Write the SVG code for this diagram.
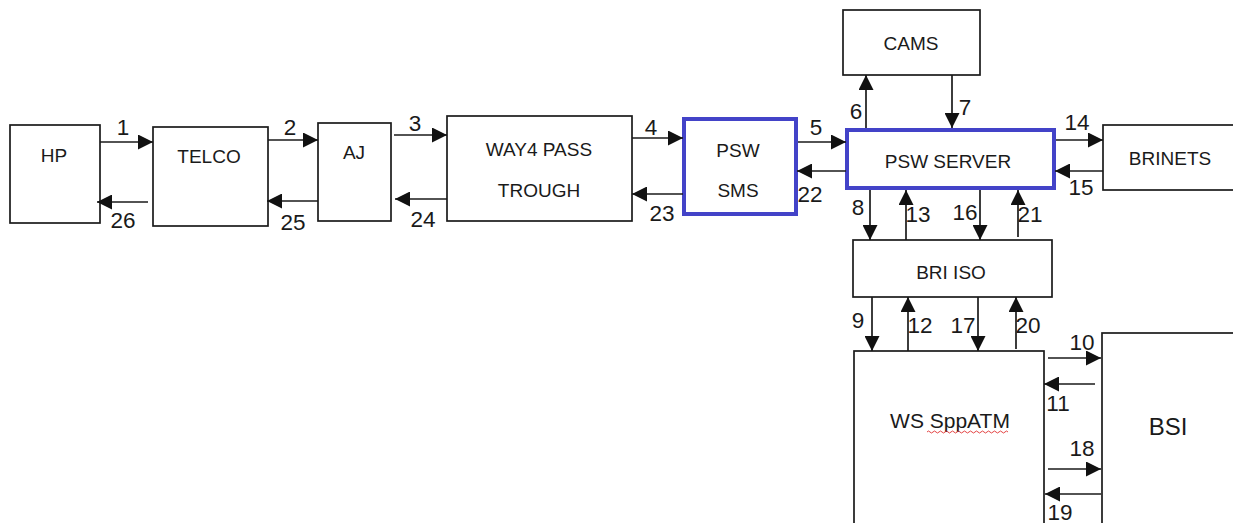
<svg xmlns="http://www.w3.org/2000/svg" width="1233" height="523" viewBox="0 0 1233 523">
<style>
.box{fill:#fff;stroke:#1a1a1a;stroke-width:1.7}
.blue{fill:#fff;stroke:#4343C8;stroke-width:4}
.t{font-family:"Liberation Sans",Arial,sans-serif;font-size:19px;fill:#1a1a1a;text-anchor:middle}
.n{font-family:"Liberation Sans",Arial,sans-serif;font-size:22.5px;fill:#1a1a1a;text-anchor:middle}
.c{stroke:#1a1a1a;stroke-width:1.7;fill:none;marker-end:url(#ah)}
</style>
<defs>
<marker id="ah" markerUnits="userSpaceOnUse" markerWidth="15" markerHeight="15" refX="15" refY="7.5" orient="auto">
<path d="M0,0 L15,7.5 L0,15 z" fill="#111"/>
</marker>
</defs>
<rect width="1233" height="523" fill="#fff"/>
<g id="hp"><rect class="box" x="10" y="125" width="90" height="98"/><text class="t" x="54" y="162">HP</text></g>
<g id="telco"><rect class="box" x="153" y="127" width="115" height="99"/><text class="t" x="209" y="163">TELCO</text></g>
<g id="aj"><rect class="box" x="318" y="123" width="73" height="98"/><text class="t" x="354" y="159">AJ</text></g>
<g id="way4"><rect class="box" x="447" y="116" width="185" height="105"/><text class="t" x="539" y="156">WAY4 PASS</text><text class="t" x="539" y="197">TROUGH</text></g>
<g id="pswsms"><rect class="blue" x="684" y="119" width="112" height="95"/><text class="t" x="738" y="157">PSW</text><text class="t" x="738" y="197">SMS</text></g>
<g id="cams"><rect class="box" x="843" y="10" width="137" height="65"/><text class="t" x="911" y="50">CAMS</text></g>
<g id="pswserver"><rect class="blue" x="847" y="130" width="207" height="58"/><text class="t" x="948" y="168">PSW SERVER</text></g>
<g id="brinets"><rect class="box" x="1103" y="125" width="140" height="65"/><text class="t" x="1170" y="165">BRINETS</text></g>
<g id="briiso"><rect class="box" x="853" y="240" width="199" height="57"/><text class="t" x="951" y="279">BRI ISO</text></g>
<g id="wssppatm"><rect class="box" x="854" y="351" width="190" height="180"/><text class="t" x="950" y="428" style="font-size:21px">WS SppATM</text>
<path d="M927,432 q1.5,-2 3,0 t3,0 t3,0 t3,0 t3,0 t3,0 t3,0 t3,0 t3,0 t3,0 t3,0 t3,0 t3,0 t3,0 t3,0 t3,0 t3,0 t3,0 t3,0 t3,0 t3,0 t3,0 t3,0 t3,0 t3,0 t3,0 t3,0" fill="none" stroke="#e03030" stroke-width="0.9"/></g>
<g id="bsi"><rect class="box" x="1102" y="333" width="140" height="200"/><text class="t" x="1168" y="435" style="font-size:24px">BSI</text></g>
<g id="connectors">
<line class="c" x1="100" y1="142" x2="153" y2="142"/>
<line class="c" x1="148" y1="202" x2="97" y2="202"/>
<line class="c" x1="268" y1="140" x2="318" y2="140"/>
<line class="c" x1="318" y1="201" x2="267" y2="201"/>
<line class="c" x1="394" y1="135" x2="447" y2="135"/>
<line class="c" x1="447" y1="199" x2="395" y2="199"/>
<line class="c" x1="632" y1="138" x2="683" y2="138"/>
<line class="c" x1="683" y1="194" x2="632" y2="194"/>
<line class="c" x1="798" y1="142" x2="846" y2="142"/>
<line class="c" x1="846" y1="171" x2="797" y2="171"/>
<line class="c" x1="866" y1="128" x2="866" y2="75"/>
<line class="c" x1="952" y1="75" x2="952" y2="128"/>
<line class="c" x1="1056" y1="140" x2="1103" y2="140"/>
<line class="c" x1="1103" y1="171" x2="1055" y2="171"/>
<line class="c" x1="870" y1="190" x2="870" y2="240"/>
<line class="c" x1="906" y1="240" x2="906" y2="190"/>
<line class="c" x1="980" y1="190" x2="980" y2="240"/>
<line class="c" x1="1018" y1="237" x2="1018" y2="190"/>
<line class="c" x1="872" y1="297" x2="872" y2="351"/>
<line class="c" x1="908" y1="351" x2="908" y2="297"/>
<line class="c" x1="978" y1="297" x2="978" y2="351"/>
<line class="c" x1="1016" y1="349" x2="1016" y2="297"/>
<line class="c" x1="1048" y1="358" x2="1101" y2="358"/>
<line class="c" x1="1095" y1="384" x2="1044" y2="384"/>
<line class="c" x1="1048" y1="469" x2="1101" y2="469"/>
<line class="c" x1="1101" y1="494" x2="1045" y2="494"/>
</g>
<g id="labels">
<text class="n" x="123" y="135">1</text>
<text class="n" x="290" y="135">2</text>
<text class="n" x="415" y="131">3</text>
<text class="n" x="651" y="135">4</text>
<text class="n" x="816" y="135">5</text>
<text class="n" x="856" y="119">6</text>
<text class="n" x="965" y="115">7</text>
<text class="n" x="858" y="215">8</text>
<text class="n" x="858" y="328">9</text>
<text class="n" x="1082" y="350">10</text>
<text class="n" x="1058" y="411">11</text>
<text class="n" x="920" y="333">12</text>
<text class="n" x="918" y="222">13</text>
<text class="n" x="1077" y="130">14</text>
<text class="n" x="1081" y="195">15</text>
<text class="n" x="965" y="220">16</text>
<text class="n" x="963" y="333">17</text>
<text class="n" x="1082" y="456">18</text>
<text class="n" x="1060" y="520">19</text>
<text class="n" x="1028" y="333">20</text>
<text class="n" x="1030" y="222">21</text>
<text class="n" x="810" y="202">22</text>
<text class="n" x="662" y="221">23</text>
<text class="n" x="423" y="227">24</text>
<text class="n" x="293" y="230">25</text>
<text class="n" x="123" y="228">26</text>
</g>
</svg>
